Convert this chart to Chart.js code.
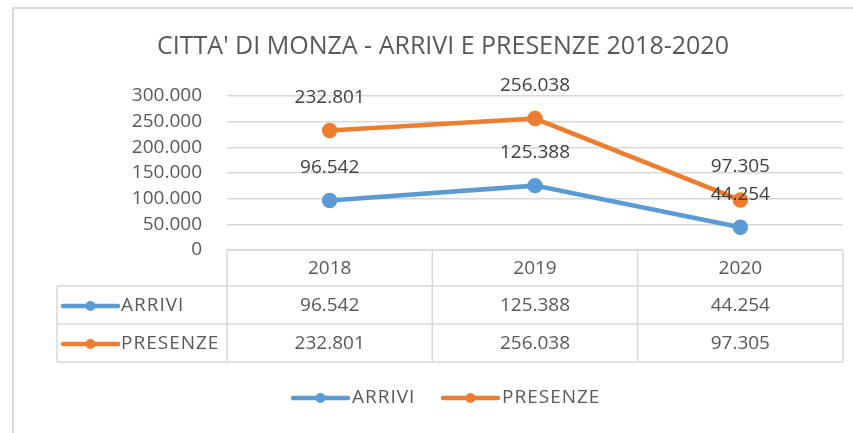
<!DOCTYPE html>
<html>
<head>
<meta charset="utf-8">
<script src="https://cdn.jsdelivr.net/npm/chart.js@4.4.0/dist/chart.umd.min.js"></script>
<style>
  body { margin: 0; background: #fff; }
  canvas { display: block; }
</style>
</head>
<body>
<canvas id="chart" width="853" height="433"></canvas>
<script>
const years = ['2018', '2019', '2020'];
const arrivi = [96542, 125388, 44254];
const presenze = [232801, 256038, 97305];
const seriesNames = ['ARRIVI', 'PRESENZE'];
const yTicks = [0, 50000, 100000, 150000, 200000, 250000, 300000];
const chartTitle = "CITTA' DI MONZA - ARRIVI E PRESENZE 2018-2020";

const blue = '#5B9BD5';
const orange = '#ED7D31';
const textColor = '#595959';
const lineColor = '#d9d9d9';
const fontName = "'Open Sans', sans-serif";

// numeri all'italiana: 96.542
function fmt(v) {
    return v.toString().replace(/\B(?=(\d{3})+(?!\d))/g, '.');
}

function drawKey(ctx, x1, x2, y, color) {
    ctx.save();
    ctx.strokeStyle = color;
    ctx.lineWidth = 4.5;
    ctx.lineCap = 'round';
    ctx.beginPath();
    ctx.moveTo(x1, y);
    ctx.lineTo(x2, y);
    ctx.stroke();
    ctx.fillStyle = color;
    ctx.beginPath();
    ctx.arc((x1 + x2) / 2, y, 5, 0, Math.PI * 2);
    ctx.fill();
    ctx.restore();
}

const excelExtras = {
    id: 'excelExtras',
    afterDraw(chart) {
        const ctx = chart.ctx;
        const area = chart.chartArea;
        const xs = chart.scales.x;

        // bordo esterno
        ctx.save();
        ctx.strokeStyle = lineColor;
        ctx.lineWidth = 2;
        ctx.beginPath();
        ctx.moveTo(13, 440);
        ctx.lineTo(13, 8);
        ctx.lineTo(860, 8);
        ctx.stroke();

        // titolo
        ctx.fillStyle = textColor;
        ctx.font = '25px ' + fontName;
        ctx.textAlign = 'center';
        ctx.textBaseline = 'middle';
        ctx.fillText(chartTitle, 443, 47);

        // etichette dati sopra i punti
        ctx.font = '19px ' + fontName;
        ctx.fillStyle = '#404040';
        chart.data.datasets.forEach((ds, i) => {
            chart.getDatasetMeta(i).data.forEach((pt, j) => {
                ctx.fillText(fmt(ds.data[j]), pt.x, pt.y - 33);
            });
        });

        // tabella dati
        const rowY = [area.bottom, 286, 324, 362];
        const colX = [area.left];
        years.forEach((_, j) => {
            const c = xs.getPixelForValue(j);
            colX.push(j < years.length - 1 ? (c + xs.getPixelForValue(j + 1)) / 2 : area.right);
        });
        const tableLeft = 57;
        ctx.strokeStyle = lineColor;
        ctx.lineWidth = 1.5;
        ctx.beginPath();
        rowY.forEach((y, r) => {
            ctx.moveTo(r === 0 ? area.left : tableLeft, y);
            ctx.lineTo(area.right, y);
        });
        colX.forEach(x => {
            ctx.moveTo(x, rowY[0]);
            ctx.lineTo(x, rowY[3]);
        });
        ctx.moveTo(tableLeft, rowY[1]);
        ctx.lineTo(tableLeft, rowY[3]);
        ctx.stroke();

        ctx.fillStyle = textColor;
        years.forEach((y, j) => {
            ctx.fillText(y, xs.getPixelForValue(j), (rowY[0] + rowY[1]) / 2 + 1);
        });
        chart.data.datasets.forEach((ds, i) => {
            const cy = (rowY[i + 1] + rowY[i + 2]) / 2 + 1;
            ds.data.forEach((v, j) => {
                ctx.fillText(fmt(v), xs.getPixelForValue(j), cy);
            });
            drawKey(ctx, 63, 118, cy, ds.borderColor);
            ctx.textAlign = 'left';
            ctx.letterSpacing = '1px';
            ctx.fillText(ds.label, 121, cy);
            ctx.letterSpacing = '0px';
            ctx.textAlign = 'center';
        });

        // legenda
        const legX = [[293, 348, 352], [443, 498, 502]];
        ctx.textAlign = 'left';
        ctx.letterSpacing = '1px';
        chart.data.datasets.forEach((ds, i) => {
            drawKey(ctx, legX[i][0], legX[i][1], 398, ds.borderColor);
            ctx.fillText(ds.label, legX[i][2], 398);
        });
        ctx.restore();
    }
};

new Chart(document.getElementById('chart'), {
    type: 'line',
    data: {
        labels: years,
        datasets: [
            {
                label: seriesNames[0],
                data: arrivi,
                borderColor: blue,
                backgroundColor: blue,
                borderWidth: 4.5,
                pointRadius: 5.5,
                tension: 0
            },
            {
                label: seriesNames[1],
                data: presenze,
                borderColor: orange,
                backgroundColor: orange,
                borderWidth: 4.5,
                pointRadius: 5.5,
                tension: 0
            }
        ]
    },
    options: {
        responsive: false,
        animation: false,
        devicePixelRatio: 1,
        layout: {
            padding: { left: 0, top: 96, right: 8, bottom: 183 }
        },
        scales: {
            x: {
                display: false,
                offset: true
            },
            y: {
                min: 0,
                max: 300000,
                afterFit: (scale) => { scale.width = 227; },
                afterBuildTicks: (scale) => { scale.ticks = yTicks.map(v => ({ value: v })); },
                border: { display: false },
                grid: { color: lineColor, lineWidth: 1.5, drawTicks: false },
                ticks: {
                    autoSkip: false,
                    padding: 25,
                    color: textColor,
                    font: { family: fontName, size: 19 },
                    callback: (v) => fmt(v)
                }
            }
        },
        plugins: {
            legend: { display: false },
            tooltip: { enabled: false }
        }
    },
    plugins: [excelExtras]
});
</script>
</body>
</html>
